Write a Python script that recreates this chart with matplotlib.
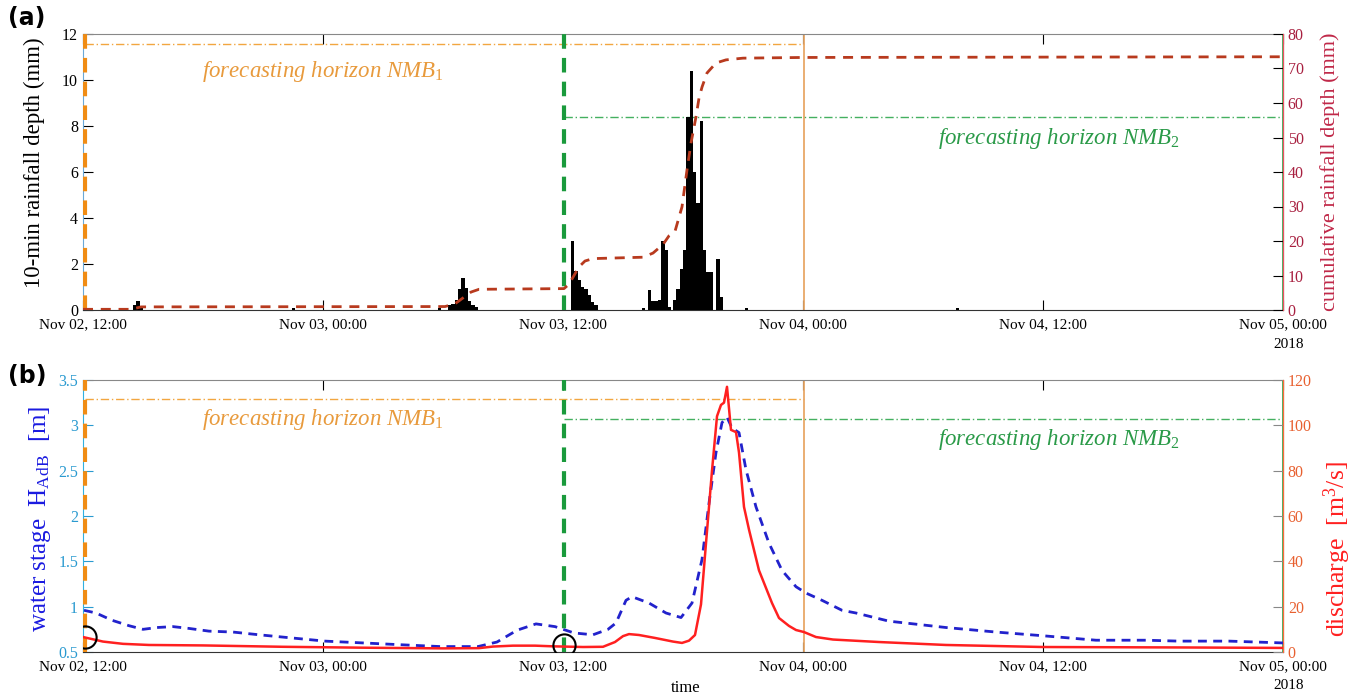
import matplotlib
matplotlib.use('Agg')
import matplotlib.pyplot as plt

plt.rcParams['font.family'] = ['Liberation Serif', 'DejaVu Serif']
plt.rcParams['mathtext.fontset'] = 'custom'
plt.rcParams['mathtext.rm'] = 'Liberation Serif'
plt.rcParams['mathtext.it'] = 'Liberation Serif:italic'

# x axis: hours since Nov 02, 12:00
tick_hours = [0, 12, 24, 36, 48, 60]
tick_labels = ['Nov 02, 12:00', 'Nov 03, 00:00', 'Nov 03, 12:00',
               'Nov 04, 00:00', 'Nov 04, 12:00', 'Nov 05, 00:00']

# 10-min rainfall (bar start hour, mm)
rain_t = [2.5, 2.67, 2.83, 10.45, 17.75,
          18.25, 18.42, 18.58, 18.75, 18.92, 19.08, 19.25, 19.42, 19.58,
          24.4, 24.57, 24.73, 24.9, 25.07, 25.23, 25.4, 25.57,
          27.95, 28.25, 28.42, 28.58, 28.75, 28.92, 29.08, 29.25,
          29.5, 29.67, 29.83, 30.0, 30.17, 30.33, 30.5, 30.67, 30.83, 31.0,
          31.17, 31.33, 31.67, 31.83, 33.1, 43.65]
rain_mm = [0.2, 0.4, 0.15, 0.1, 0.1,
           0.2, 0.25, 0.45, 0.9, 1.4, 0.95, 0.4, 0.2, 0.15,
           3.0, 1.7, 1.3, 1.0, 0.9, 0.65, 0.35, 0.2,
           0.1, 0.85, 0.4, 0.4, 0.45, 3.0, 2.6, 0.15,
           0.45, 0.9, 1.8, 2.6, 8.4, 10.4, 6.0, 4.65, 8.2, 2.6,
           1.65, 1.65, 2.2, 0.55, 0.1, 0.1]

# cumulative rainfall (hour, mm)
cum_t = [0.0, 2.4, 2.9, 18.1, 18.6, 19.0, 19.4, 19.8, 24.05, 24.3, 24.5,
         24.8, 25.1, 25.5, 28.0, 28.5, 29.0, 29.3, 29.6, 29.95, 30.2, 30.4,
         30.65, 30.8, 30.95, 31.2, 31.65, 32.15, 33.0, 36.0, 60.0]
cum_mm = [0.2, 0.2, 0.9, 1.0, 1.8, 3.5, 5.2, 6.0, 6.2, 7.5, 9.5,
          12.5, 14.2, 14.9, 15.3, 16.5, 19.0, 21.5, 22.8, 29.9, 40.6, 48.4,
          56.0, 61.4, 64.6, 68.7, 71.6, 72.5, 73.0, 73.2, 73.4]

# water stage H_AdB (hour, m)
stage_t = [0.05, 0.65, 1.45, 2.3, 3.0, 3.7, 4.5, 5.3, 6.3, 7.5, 8.8, 10.2,
           12.1, 14.0, 15.9, 17.85, 19.75, 20.7, 21.7, 22.65, 23.6, 24.55,
           25.5, 26.25, 26.65, 27.15, 27.45, 28.3, 29.15, 29.9, 30.45, 30.95,
           31.3, 31.65, 31.95, 32.2, 32.45, 32.8, 33.15, 33.65, 34.3, 34.95,
           35.65, 36.15, 36.95, 37.95, 38.65, 40.3, 43.15, 45.65, 47.95,
           50.65, 53.15, 54.8, 57.3, 60.0]
stage_m = [0.96, 0.93, 0.85, 0.79, 0.75, 0.77, 0.78, 0.76, 0.73, 0.72, 0.69,
           0.66, 0.62, 0.60, 0.58, 0.56, 0.56, 0.61, 0.74, 0.81, 0.78, 0.71,
           0.69, 0.75, 0.82, 1.07, 1.11, 1.04, 0.93, 0.88, 1.04, 1.52,
           2.14, 2.70, 3.03, 3.09, 2.97, 2.92, 2.51, 2.10, 1.70, 1.40,
           1.22, 1.15, 1.07, 0.96, 0.93, 0.84, 0.77, 0.72, 0.68,
           0.63, 0.63, 0.62, 0.62, 0.60]

# discharge (hour, m3/s)
q_t = [0.05, 0.5, 1.0, 2.0, 3.3, 6.0, 10.0, 14.0, 18.0, 19.8, 20.5, 21.5,
       22.6, 23.5, 24.05, 25.0, 26.0, 26.6, 27.0, 27.3, 27.8, 28.6, 29.5,
       29.95, 30.3, 30.6, 30.9, 31.15, 31.45, 31.7, 31.9, 32.05, 32.2, 32.4,
       32.65, 32.8, 33.05, 33.3, 33.8, 34.45, 34.8, 35.3, 35.65, 36.05,
       36.65, 37.5, 39.8, 43.15, 48.0, 55.0, 60.0]
q_val = [6.5, 5.6, 4.6, 3.6, 3.1, 2.9, 2.3, 1.9, 1.6, 1.7, 2.4, 2.8,
         2.8, 2.5, 2.4, 2.2, 2.3, 4.4, 7.0, 7.9, 7.5, 6.2, 4.6,
         4.0, 5.0, 7.5, 21.0, 48.0, 80.0, 104.0, 109.0, 110.0, 117.0, 98.0,
         97.0, 88.0, 64.0, 54.0, 36.0, 21.6, 15.0, 11.5, 9.7, 8.8,
         6.6, 5.5, 4.4, 3.1, 2.2, 2.0, 1.8]

# forecasting horizons
fc_start = [0.1, 24.05]
fc_end = [36.05, 60.0]
fc_level_a = [11.55, 8.4]
fc_level_b = [3.29, 3.07]
fc_names = ['forecasting horizon NMB$_{\\mathit{1}}$', 'forecasting horizon NMB$_{\\mathit{2}}$']
circle_q = [6.6, 3.1]

c_or = '#f08c14'
c_or_dd = '#f2a640'
c_or_txt = '#e89a3c'
c_or_end = '#e8a868'
c_gr = '#1a9a3c'
c_gr_dd = '#44b060'
c_gr_txt = '#2a9a48'
c_gr_end = '#40b860'

W, H = 1363, 697
fig = plt.figure(figsize=(W / 100, H / 100), dpi=100)
ax1 = fig.add_axes([83 / W, 1 - 310 / H, 1200 / W, 276 / H])
ax2 = fig.add_axes([83 / W, 1 - 652 / H, 1200 / W, 272 / H])
ax1r = ax1.twinx()
ax2r = ax2.twinx()

# ---- panel (a)
ax1.bar(rain_t, rain_mm, width=1 / 6, align='edge', color='black', linewidth=0, zorder=3)
ax1r.plot(cum_t, cum_mm, color='#b83a1e', lw=2, ls=(0, (3.6, 2.8)), zorder=3)

for ax, levels, tys in [(ax1, fc_level_a, [10.35, 7.45]), (ax2, fc_level_b, [3.06, 2.84])]:
    for i, (s, e, lev) in enumerate(zip(fc_start, fc_end, levels)):
        col = c_or if i == 0 else c_gr
        ax.axvline(s, color=col, lw=3, ls=(0, (3.5, 2.2)), zorder=4)
        ax.plot([s, e], [lev, lev], color=c_or_dd if i == 0 else c_gr_dd,
                lw=1.0, ls=(0, (6, 2, 1, 2)), zorder=2)
        ax.axvline(e, color=c_or_end if i == 0 else c_gr_end, lw=1.3, zorder=2)
    ax.text(5.95, tys[0], fc_names[0], color=c_or_txt, fontsize=16.5, style='italic', va='center')
    ax.text(42.75, tys[1], fc_names[1], color=c_gr_txt, fontsize=16.5, style='italic', va='center')

ax1.set_xlim(0, 60)
ax1.set_ylim(0, 12)
ax1r.set_ylim(0, 80)
ax1.set_yticks(range(0, 13, 2))
ax1r.set_yticks(range(0, 81, 10))
ax1.set_ylabel('10-min rainfall depth (mm)', fontsize=16.5)
ax1.yaxis.set_label_coords(-0.032, 0.535)
ax1r.set_ylabel('cumulative rainfall depth (mm)', fontsize=16, color='#c02848')
ax1r.yaxis.set_label_coords(1.031, 0.5)
ax1.tick_params(axis='y', labelsize=11.5, direction='in', length=7, colors='black')
ax1r.tick_params(axis='y', labelsize=11.5, direction='in', length=7, labelcolor='#a82040', color='black')
ax1.spines['left'].set_color('#6aa8d8')
ax1r.spines['right'].set_color('#f05060')

# ---- panel (b)
ax2.plot(stage_t, stage_m, color='#2222cc', lw=2, ls=(0, (3.2, 2.3)), zorder=3)
ax2r.plot(q_t, q_val, color='#ff2020', lw=1.8, zorder=3)
ax2r.plot(fc_start, circle_q, 'o', ms=16, mfc='none', mec='black', mew=1.5, zorder=5)

ax2.set_xlim(0, 60)
ax2.set_ylim(0.5, 3.5)
ax2r.set_ylim(0, 120)
ax2.set_yticks([0.5, 1, 1.5, 2, 2.5, 3, 3.5])
ax2.set_yticklabels(['0.5', '1', '1.5', '2', '2.5', '3', '3.5'])
ax2r.set_yticks(range(0, 121, 20))
ax2.set_ylabel('water stage  H$_{\\mathrm{AdB}}$  [m]', fontsize=18, color='#1a1ae0')
ax2.yaxis.set_label_coords(-0.025, 0.49)
ax2r.set_ylabel('discharge  [m$^{3}$/s]', fontsize=18.5, color='#ff2020')
ax2r.yaxis.set_label_coords(1.032, 0.38)
ax2.tick_params(axis='y', labelsize=11.5, direction='in', length=7, labelcolor='#2a9ad0', color='#2a9ad0')
ax2r.tick_params(axis='y', labelsize=11.5, direction='in', length=7, labelcolor='#e86030', color='#888888')
ax2.spines['left'].set_color('#30b0e0')
ax2r.spines['right'].set_color('#ff6a3a')

for ax in (ax1, ax2):
    ax.set_xticks(tick_hours)
    ax.set_xticklabels(tick_labels)
    ax.tick_params(axis='x', labelsize=11, direction='in', length=7, top=True, pad=6)
    ax.spines['top'].set_color('#888888')
    ax.spines['bottom'].set_color('#333333')
    ax.text(1.005, -0.1, '2018', transform=ax.transAxes, fontsize=11, ha='center', va='top')
for ax in (ax1r, ax2r):
    for s in ('left', 'top', 'bottom'):
        ax.spines[s].set_visible(False)

fig.text(686 / W, 1 - 688 / H, 'time', fontsize=12, ha='center', va='center')
fig.text(8 / W, 1 - 18 / H, '(a)', fontsize=17, fontweight='bold', family='DejaVu Sans', va='center')
fig.text(8 / W, 1 - 376 / H, '(b)', fontsize=17, fontweight='bold', family='DejaVu Sans', va='center')

fig.savefig('out.png', dpi=100)
